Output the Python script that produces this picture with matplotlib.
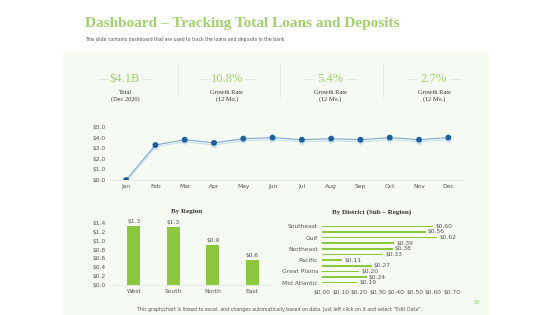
import matplotlib
matplotlib.use("Agg")
import matplotlib.pyplot as plt
import matplotlib.patheffects as pe
from matplotlib.patches import Rectangle

# Datos
kpi_values = ["$4.1B", "10.8%", "5.4%", "2.7%"]
kpi_labels = ["Total\n(Dec 2020)", "Growth Rate\n(12 Mo.)", "Growth Rate\n(12 Mo.)", "Growth Rate\n(12 Mo.)"]

months = ["Jan", "Feb", "Mar", "Apr", "May", "Jun", "Jul", "Aug", "Sep", "Oct", "Nov", "Dec"]
monthly = [0.0, 3.3, 3.8, 3.5, 3.9, 4.0, 3.8, 3.9, 3.8, 4.0, 3.8, 4.0]

regions = ["West", "South", "North", "East"]
region_vals = [1.33, 1.30, 0.90, 0.56]

districts = ["Mid Atlantic", "", "Great Plains", "", "Pacific", "", "Northeast", "", "Gulf", "", "Southeast"]
district_vals = [0.19, 0.24, 0.20, 0.27, 0.11, 0.33, 0.38, 0.39, 0.62, 0.56, 0.60]

W, H = 560, 315
green = "#a2d06e"
bar_green = "#8dc63f"
gray = "#555555"

fig = plt.figure(figsize=(5.6, 3.15), dpi=100)
fig.patch.set_facecolor("white")


def px_axes(l, t, r, b):
    return fig.add_axes([l / W, 1 - b / H, (r - l) / W, (b - t) / H])


# panel de fondo
fig.patches.append(Rectangle((63 / W, 0), (489 - 63) / W, 1 - 53 / H, transform=fig.transFigure,
                             facecolor="#f5faf3", edgecolor="none", zorder=-5))

fig.text(85 / W, 1 - 24 / H, "Dashboard \u2013 Tracking Total Loans and Deposits", fontsize=11,
         family="Liberation Serif", weight="bold", color=green, va="center", ha="left")
fig.text(85 / W, 1 - 39 / H, "This slide contains dashboard that are used to track the loans and deposits in the bank.",
         fontsize=3.3, color=gray, va="center", ha="left")

# KPIs
kpi_x = [125, 227, 330, 434]
for x, v, lab in zip(kpi_x, kpi_values, kpi_labels):
    fig.text(x / W, 1 - 79 / H, v, fontsize=9, family="Liberation Serif", color=green, ha="center", va="center")
    fig.lines.append(plt.Line2D([(x - 27) / W, (x - 17) / W], [1 - 79 / H] * 2, color="#dfe8da", lw=0.6,
                                transform=fig.transFigure))
    fig.lines.append(plt.Line2D([(x + 17) / W, (x + 27) / W], [1 - 79 / H] * 2, color="#dfe8da", lw=0.6,
                                transform=fig.transFigure))
    fig.text(x / W, 1 - 96 / H, lab, fontsize=4.6, family="Liberation Serif", color="#333333",
             ha="center", va="center", linespacing=1.4)
for x in [178, 280, 383]:
    fig.lines.append(plt.Line2D([x / W] * 2, [1 - 65 / H, 1 - 97 / H], color="#e3e8e0", lw=0.6,
                                transform=fig.transFigure))

# linea mensual
ax1 = px_axes(110, 127, 463, 180)
ax1.set_facecolor("none")
ax1.plot(range(len(months)), monthly, color="#7fa8cf", lw=0.8, marker="o", markersize=3.2,
         markerfacecolor="#1f5f9e", markeredgecolor="#1f5f9e", zorder=3,
         path_effects=[pe.SimpleLineShadow(offset=(0, -1.5), shadow_color="#9cc3e6", alpha=0.5), pe.Normal()])
ax1.set_xlim(-0.55, 11.5)
ax1.set_ylim(0, 5)
ax1.set_xticks(range(len(months)))
ax1.set_xticklabels(months)
ax1.set_yticks([0, 1, 2, 3, 4, 5])
ax1.set_yticklabels(["$%.1f" % v for v in [0, 1, 2, 3, 4, 5]])
for s in ["top", "right", "left"]:
    ax1.spines[s].set_visible(False)
ax1.spines["bottom"].set_color("#e4ebe0")
ax1.tick_params(length=0, labelsize=4.3, labelcolor=gray, pad=3)

# barras por region
ax2 = px_axes(110, 223, 272, 285)
ax2.set_facecolor("none")
ax2.bar(range(len(regions)), region_vals, width=0.33, color=bar_green)
for i, v in enumerate(region_vals):
    ax2.text(i, v + 0.05, "$%.1f" % v, ha="center", va="bottom", fontsize=4.3, color=gray)
ax2.set_xlim(-0.6, 3.5)
ax2.set_ylim(0, 1.4)
ax2.set_xticks(range(len(regions)))
ax2.set_xticklabels(regions)
ax2.set_yticks([0, 0.2, 0.4, 0.6, 0.8, 1.0, 1.2, 1.4])
ax2.set_yticklabels(["$%.1f" % v for v in [0, 0.2, 0.4, 0.6, 0.8, 1.0, 1.2, 1.4]])
for s in ["top", "right", "left"]:
    ax2.spines[s].set_visible(False)
ax2.spines["bottom"].set_color("#e4ebe0")
ax2.tick_params(length=0, labelsize=4.3, labelcolor=gray, pad=3)
fig.text(187 / W, 1 - 212 / H, "By Region", fontsize=5, family="Liberation Serif", weight="bold",
         color="#333333", ha="center", va="center")

# barras por distrito
ax3 = px_axes(322, 223, 452, 286)
ax3.set_facecolor("none")
ax3.barh(range(len(districts)), district_vals, height=0.3, color=bar_green)
for i, v in enumerate(district_vals):
    ax3.text(v + 0.01, i, "$%.2f" % v, ha="left", va="center", fontsize=4.3, color=gray)
ax3.set_ylim(-0.6, 10.6)
ax3.set_xlim(0, 0.7)
ax3.set_yticks(range(len(districts)))
ax3.set_yticklabels(districts)
xt = [0, 0.1, 0.2, 0.3, 0.4, 0.5, 0.6, 0.7]
ax3.set_xticks(xt)
ax3.set_xticklabels(["$%.2f" % v for v in xt])
for s in ["top", "right", "left", "bottom"]:
    ax3.spines[s].set_visible(False)
ax3.tick_params(length=0, labelsize=4.3, labelcolor=gray, pad=3)
fig.text(372 / W, 1 - 212 / H, "By District (Sub \u2013 Region)", fontsize=5, family="Liberation Serif",
         weight="bold", color="#333333", ha="center", va="center")

fig.text(280 / W, 1 - 310 / H, "This graph/chart is linked to excel, and changes automatically based on data. Just left click on it and select \u201cEdit Data\u201d.",
         fontsize=3.4, color=gray, ha="center", va="center")
fig.text(477 / W, 1 - 302 / H, "29", fontsize=3.5, color=green, ha="center", va="center")

fig.savefig("out.png", dpi=100)
